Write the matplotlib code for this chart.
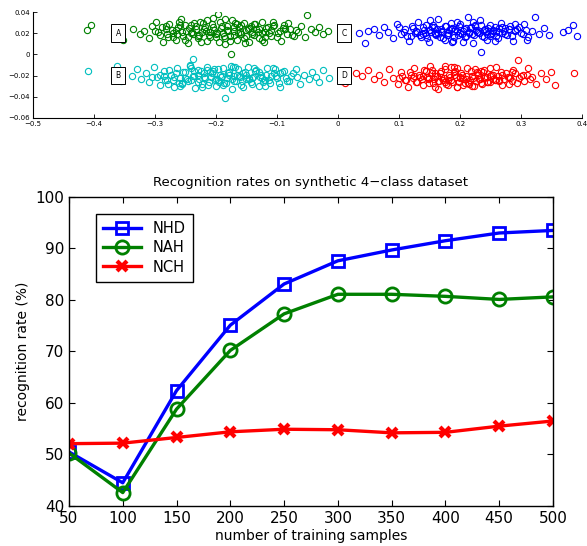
import matplotlib
matplotlib.use('Agg')
import matplotlib.pyplot as plt

# --- bottom panel: recognition rates ---
n_samples = [50, 100, 150, 200, 250, 300, 350, 400, 450, 500]
nhd = [50.5, 44.5, 62.4, 75.1, 83.1, 87.6, 89.7, 91.5, 93.0, 93.5]
nah = [50.3, 42.6, 58.8, 70.2, 77.3, 81.1, 81.1, 80.7, 80.1, 80.6]
nch = [52.1, 52.2, 53.3, 54.4, 54.9, 54.8, 54.2, 54.3, 55.5, 56.5]

# --- top panel: synthetic 4-class data (hand-read points) ---
a_x = [-0.412, -0.405, -0.362, -0.356, -0.352, -0.335, -0.325, -0.318, -0.310, -0.305,
       -0.298, -0.292, -0.287, -0.282, -0.276, -0.271, -0.266, -0.262, -0.257, -0.253,
       -0.249, -0.245, -0.241, -0.237, -0.233, -0.229, -0.226, -0.222, -0.218, -0.214,
       -0.211, -0.207, -0.203, -0.199, -0.196, -0.192, -0.188, -0.185, -0.181, -0.177,
       -0.173, -0.170, -0.166, -0.162, -0.158, -0.154, -0.150, -0.146, -0.142, -0.138,
       -0.134, -0.129, -0.125, -0.120, -0.115, -0.110, -0.104, -0.098, -0.093, -0.087,
       -0.082, -0.075, -0.068, -0.061, -0.054, -0.051, -0.044, -0.037, -0.030, -0.024,
       -0.016, -0.175, -0.280, -0.265, -0.250, -0.240, -0.230, -0.220, -0.210, -0.200,
       -0.190, -0.180, -0.170, -0.160, -0.150, -0.140, -0.130, -0.120, -0.110, -0.195,
       -0.215, -0.165, -0.145, -0.235, -0.255, -0.185, -0.300, -0.090, -0.270, -0.125,
       -0.295, -0.288, -0.279, -0.272, -0.263, -0.258, -0.251, -0.244, -0.239, -0.232,
       -0.227, -0.221, -0.216, -0.209, -0.204, -0.198, -0.193, -0.187, -0.182, -0.176,
       -0.171, -0.164, -0.159, -0.153, -0.148, -0.141, -0.136, -0.131, -0.124, -0.118,
       -0.112, -0.106, -0.100, -0.095, -0.089, -0.084, -0.078, -0.072, -0.066, -0.260,
       -0.245, -0.225, -0.205, -0.185, -0.168, -0.152, -0.137, -0.121, -0.106, -0.282]
a_y = [0.023, 0.028, 0.025, 0.023, 0.014, 0.024, 0.019, 0.022, 0.015, 0.027,
       0.031, 0.018, 0.012, 0.024, 0.029, 0.020, 0.014, 0.026, 0.033, 0.017,
       0.022, 0.011, 0.028, 0.019, 0.024, 0.015, 0.031, 0.021, 0.026, 0.013,
       0.018, 0.029, 0.023, 0.016, 0.038, 0.025, 0.020, 0.010, 0.027, 0.017,
       0.032, 0.022, 0.014, 0.026, 0.019, 0.030, 0.023, 0.012, 0.027, 0.018,
       0.024, 0.015, 0.031, 0.021, 0.026, 0.017, 0.028, 0.020, 0.013, 0.024,
       0.030, 0.018, 0.023, 0.027, 0.016, 0.037, 0.024, 0.021, 0.026, 0.019,
       0.022, 0.000, 0.019, 0.023, 0.028, 0.020, 0.017, 0.024, 0.021, 0.019,
       0.027, 0.022, 0.018, 0.021, 0.017, 0.021, 0.024, 0.016, 0.023, 0.012,
       0.032, 0.029, 0.025, 0.030, 0.021, 0.033, 0.022, 0.025, 0.016, 0.020,
       0.021, 0.026, 0.016, 0.023, 0.019, 0.028, 0.014, 0.025, 0.021, 0.027,
       0.018, 0.030, 0.022, 0.016, 0.026, 0.020, 0.031, 0.017, 0.023, 0.013,
       0.026, 0.020, 0.028, 0.015, 0.024, 0.019, 0.029, 0.021, 0.014, 0.025,
       0.020, 0.027, 0.016, 0.022, 0.028, 0.019, 0.024, 0.017, 0.021, 0.031,
       0.016, 0.012, 0.034, 0.015, 0.030, 0.011, 0.029, 0.012, 0.031, 0.027]

b_x = [-0.410, -0.362, -0.360, -0.356, -0.338, -0.330, -0.322, -0.315, -0.309, -0.302,
       -0.296, -0.291, -0.285, -0.280, -0.274, -0.269, -0.264, -0.259, -0.255, -0.250,
       -0.246, -0.242, -0.238, -0.234, -0.230, -0.227, -0.223, -0.219, -0.215, -0.212,
       -0.208, -0.204, -0.200, -0.197, -0.193, -0.189, -0.186, -0.182, -0.178, -0.174,
       -0.171, -0.167, -0.163, -0.159, -0.155, -0.151, -0.147, -0.143, -0.139, -0.135,
       -0.130, -0.126, -0.121, -0.116, -0.111, -0.105, -0.099, -0.094, -0.088, -0.083,
       -0.076, -0.069, -0.062, -0.055, -0.048, -0.043, -0.036, -0.031, -0.025, -0.015,
       -0.185, -0.238, -0.285, -0.265, -0.250, -0.240, -0.230, -0.220, -0.210, -0.200,
       -0.190, -0.180, -0.170, -0.160, -0.150, -0.140, -0.130, -0.120, -0.110, -0.195,
       -0.215, -0.165, -0.145, -0.235, -0.255, -0.175, -0.305, -0.095, -0.270, -0.125,
       -0.292, -0.283, -0.276, -0.268, -0.261, -0.253, -0.247, -0.241, -0.236, -0.229,
       -0.224, -0.218, -0.213, -0.207, -0.202, -0.196, -0.191, -0.184, -0.179, -0.173,
       -0.168, -0.162, -0.157, -0.152, -0.146, -0.141, -0.134, -0.128, -0.123, -0.117,
       -0.113, -0.107, -0.101, -0.096, -0.091, -0.085, -0.080, -0.073, -0.067, -0.258,
       -0.243, -0.222, -0.203, -0.188, -0.172, -0.156, -0.138, -0.119, -0.103, -0.278]
b_y = [-0.016, -0.011, -0.021, -0.025, -0.020, -0.014, -0.023, -0.018, -0.026, -0.012,
       -0.021, -0.029, -0.016, -0.024, -0.019, -0.031, -0.013, -0.022, -0.027, -0.017,
       -0.025, -0.010, -0.020, -0.032, -0.015, -0.023, -0.028, -0.018, -0.012, -0.026,
       -0.021, -0.016, -0.030, -0.024, -0.019, -0.013, -0.027, -0.022, -0.017, -0.033,
       -0.020, -0.025, -0.014, -0.029, -0.018, -0.023, -0.012, -0.026, -0.021, -0.016,
       -0.030, -0.019, -0.024, -0.013, -0.027, -0.018, -0.022, -0.031, -0.016, -0.025,
       -0.020, -0.014, -0.028, -0.019, -0.023, -0.017, -0.021, -0.026, -0.015, -0.022,
       -0.041, -0.004, -0.020, -0.018, -0.022, -0.024, -0.019, -0.021, -0.017, -0.023,
       -0.020, -0.018, -0.025, -0.021, -0.019, -0.022, -0.017, -0.024, -0.020, -0.026,
       -0.015, -0.019, -0.023, -0.016, -0.028, -0.011, -0.021, -0.018, -0.024, -0.022,
       -0.019, -0.024, -0.015, -0.021, -0.027, -0.017, -0.023, -0.013, -0.020, -0.026,
       -0.016, -0.022, -0.029, -0.018, -0.024, -0.014, -0.021, -0.027, -0.019, -0.023,
       -0.012, -0.020, -0.025, -0.017, -0.022, -0.028, -0.015, -0.021, -0.026, -0.019,
       -0.024, -0.013, -0.020, -0.027, -0.017, -0.022, -0.025, -0.018, -0.021, -0.030,
       -0.011, -0.031, -0.014, -0.029, -0.012, -0.031, -0.013, -0.030, -0.014, -0.028]

c_x = [0.035, 0.045, 0.050, 0.060, 0.068, 0.075, 0.082, 0.090, 0.097, 0.104,
       0.110, 0.116, 0.121, 0.126, 0.131, 0.136, 0.141, 0.145, 0.149, 0.153,
       0.157, 0.161, 0.165, 0.169, 0.173, 0.177, 0.181, 0.185, 0.189, 0.193,
       0.197, 0.201, 0.205, 0.209, 0.213, 0.217, 0.221, 0.225, 0.229, 0.233,
       0.237, 0.241, 0.245, 0.249, 0.253, 0.257, 0.262, 0.267, 0.272, 0.277,
       0.282, 0.288, 0.294, 0.300, 0.306, 0.312, 0.318, 0.323, 0.330, 0.338,
       0.346, 0.370, 0.378, 0.385, 0.392, 0.235, 0.130, 0.140, 0.150, 0.160,
       0.170, 0.180, 0.190, 0.200, 0.210, 0.220, 0.230, 0.240, 0.250, 0.260,
       0.270, 0.280, 0.155, 0.175, 0.195, 0.215, 0.245, 0.265, 0.120, 0.290,
       0.205, 0.185, 0.225, 0.165, 0.255, 0.100, 0.310, 0.145, 0.275, 0.215,
       0.108, 0.114, 0.123, 0.129, 0.134, 0.139, 0.143, 0.147, 0.151, 0.156,
       0.159, 0.163, 0.167, 0.171, 0.175, 0.179, 0.183, 0.187, 0.191, 0.195,
       0.199, 0.203, 0.207, 0.211, 0.215, 0.219, 0.223, 0.227, 0.231, 0.235,
       0.239, 0.243, 0.247, 0.251, 0.255, 0.260, 0.265, 0.270, 0.275, 0.280,
       0.285, 0.291, 0.297, 0.303, 0.309, 0.152, 0.188, 0.222, 0.258, 0.290]
c_y = [0.020, 0.011, 0.022, 0.024, 0.018, 0.026, 0.021, 0.015, 0.029, 0.019,
       0.024, 0.013, 0.027, 0.020, 0.031, 0.016, 0.023, 0.028, 0.012, 0.021,
       0.026, 0.018, 0.033, 0.022, 0.015, 0.027, 0.020, 0.030, 0.013, 0.024,
       0.018, 0.029, 0.022, 0.016, 0.035, 0.025, 0.011, 0.027, 0.021, 0.032,
       0.017, 0.024, 0.014, 0.028, 0.020, 0.026, 0.015, 0.030, 0.022, 0.018,
       0.027, 0.013, 0.024, 0.020, 0.029, 0.016, 0.022, 0.035, 0.019, 0.025,
       0.018, 0.021, 0.023, 0.028, 0.017, 0.002, 0.021, 0.019, 0.023, 0.020,
       0.024, 0.018, 0.022, 0.020, 0.025, 0.019, 0.021, 0.023, 0.017, 0.022,
       0.020, 0.024, 0.026, 0.014, 0.031, 0.021, 0.019, 0.025, 0.017, 0.023,
       0.012, 0.024, 0.028, 0.020, 0.022, 0.026, 0.014, 0.018, 0.025, 0.020,
       0.021, 0.017, 0.025, 0.022, 0.018, 0.026, 0.020, 0.015, 0.023, 0.028,
       0.019, 0.024, 0.016, 0.021, 0.027, 0.018, 0.023, 0.025, 0.016, 0.022,
       0.027, 0.019, 0.024, 0.017, 0.021, 0.026, 0.018, 0.023, 0.020, 0.028,
       0.016, 0.022, 0.025, 0.019, 0.023, 0.017, 0.021, 0.026, 0.019, 0.024,
       0.017, 0.022, 0.026, 0.019, 0.023, 0.032, 0.012, 0.031, 0.013, 0.029]

d_x = [0.005, 0.012, 0.030, 0.040, 0.050, 0.060, 0.068, 0.076, 0.084, 0.091,
       0.098, 0.104, 0.110, 0.115, 0.120, 0.125, 0.130, 0.135, 0.140, 0.144,
       0.148, 0.152, 0.156, 0.160, 0.164, 0.168, 0.172, 0.176, 0.180, 0.184,
       0.188, 0.192, 0.196, 0.200, 0.204, 0.208, 0.212, 0.216, 0.220, 0.224,
       0.228, 0.232, 0.236, 0.240, 0.245, 0.250, 0.255, 0.260, 0.265, 0.270,
       0.276, 0.282, 0.288, 0.294, 0.300, 0.306, 0.312, 0.318, 0.325, 0.333,
       0.342, 0.350, 0.356, 0.388, 0.295, 0.140, 0.150, 0.160, 0.170, 0.180,
       0.190, 0.200, 0.210, 0.220, 0.230, 0.240, 0.250, 0.260, 0.270, 0.280,
       0.155, 0.175, 0.195, 0.215, 0.235, 0.255, 0.125, 0.285, 0.165, 0.185,
       0.205, 0.225, 0.245, 0.100, 0.310, 0.145, 0.265, 0.195, 0.175, 0.235,
       0.106, 0.112, 0.118, 0.123, 0.128, 0.133, 0.138, 0.142, 0.146, 0.150,
       0.154, 0.158, 0.162, 0.166, 0.170, 0.174, 0.178, 0.182, 0.186, 0.190,
       0.194, 0.198, 0.202, 0.206, 0.210, 0.214, 0.218, 0.222, 0.226, 0.230,
       0.234, 0.238, 0.242, 0.247, 0.252, 0.257, 0.262, 0.267, 0.273, 0.279,
       0.285, 0.291, 0.297, 0.303, 0.315, 0.160, 0.190, 0.220, 0.250, 0.280]
d_y = [-0.025, -0.027, -0.018, -0.020, -0.015, -0.023, -0.019, -0.026, -0.014, -0.022,
       -0.028, -0.017, -0.024, -0.031, -0.019, -0.013, -0.026, -0.021, -0.029, -0.016,
       -0.023, -0.011, -0.027, -0.020, -0.033, -0.018, -0.024, -0.014, -0.029, -0.021,
       -0.026, -0.016, -0.031, -0.022, -0.019, -0.027, -0.013, -0.024, -0.020, -0.030,
       -0.017, -0.023, -0.028, -0.015, -0.021, -0.026, -0.019, -0.012, -0.024, -0.029,
       -0.018, -0.022, -0.015, -0.027, -0.020, -0.025, -0.013, -0.021, -0.028, -0.018,
       -0.023, -0.017, -0.029, -0.018, -0.005, -0.020, -0.022, -0.018, -0.021, -0.024,
       -0.019, -0.021, -0.023, -0.020, -0.018, -0.022, -0.020, -0.024, -0.019, -0.021,
       -0.015, -0.026, -0.013, -0.028, -0.016, -0.023, -0.020, -0.017, -0.025, -0.012,
       -0.029, -0.014, -0.026, -0.022, -0.019, -0.016, -0.025, -0.031, -0.011, -0.027,
       -0.020, -0.024, -0.017, -0.022, -0.026, -0.019, -0.023, -0.015, -0.021, -0.027,
       -0.018, -0.023, -0.020, -0.025, -0.016, -0.022, -0.028, -0.019, -0.024, -0.017,
       -0.021, -0.026, -0.018, -0.023, -0.020, -0.027, -0.016, -0.022, -0.025, -0.019,
       -0.023, -0.017, -0.021, -0.026, -0.019, -0.024, -0.020, -0.017, -0.023, -0.021,
       -0.025, -0.018, -0.022, -0.019, -0.023, -0.031, -0.012, -0.030, -0.013, -0.028]

class_labels = ['A', 'B', 'C', 'D']
label_pos = [(-0.36, 0.02), (-0.36, -0.02), (0.01, 0.02), (0.01, -0.02)]

plt.rcParams['font.family'] = 'DejaVu Sans'
fig = plt.figure(figsize=(5.87, 5.46), dpi=100)

# top scatter
ax1 = fig.add_axes([0.056, 0.784, 0.935, 0.194])
for xs, ys, col in [(a_x, a_y, (0, 0.5, 0)), (b_x, b_y, (0, 0.75, 0.75)),
                    (c_x, c_y, (0, 0, 1)), (d_x, d_y, (1, 0, 0))]:
    ax1.plot(xs, ys, 'o', mfc='none', mec=col, ms=4.5, mew=0.8)
for lab, (lx, ly) in zip(class_labels, label_pos):
    ax1.text(lx, ly, lab, fontsize=5.5, ha='center', va='center',
             bbox=dict(boxstyle='square,pad=0.55', fc='white', ec='black', lw=0.7))
ax1.set_xlim(-0.5, 0.4)
ax1.set_ylim(-0.06, 0.04)
ax1.set_xticks([-0.5, -0.4, -0.3, -0.2, -0.1, 0, 0.1, 0.2, 0.3, 0.4])
ax1.set_yticks([-0.06, -0.04, -0.02, 0, 0.02, 0.04])
ax1.set_xticklabels(['\u22120.5', '\u22120.4', '\u22120.3', '\u22120.2', '\u22120.1',
                     '0', '0.1', '0.2', '0.3', '0.4'])
ax1.set_yticklabels(['\u22120.06', '\u22120.04', '\u22120.02', '0', '0.02', '0.04'])
ax1.spines['top'].set_visible(False)
ax1.spines['right'].set_visible(False)
ax1.tick_params(direction='in', labelsize=5, length=3, width=0.6, pad=2)
for s in ax1.spines.values():
    s.set_linewidth(0.8)

# bottom line chart
ax2 = fig.add_axes([0.1175, 0.0733, 0.8245, 0.566])
ax2.plot(n_samples, nhd, '-s', color=(0, 0, 1), lw=2.4, ms=9, mfc='none', mew=2, label='NHD')
ax2.plot(n_samples, nah, '-o', color=(0, 0.5, 0), lw=2.4, ms=9.5, mfc='none', mew=2, label='NAH')
ax2.plot(n_samples, nch, '-x', color=(1, 0, 0), lw=2.4, ms=7, mew=3, label='NCH')
ax2.set_xlim(50, 500)
ax2.set_ylim(40, 100)
ax2.set_xticks(n_samples)
ax2.set_yticks([40, 50, 60, 70, 80, 90, 100])
ax2.tick_params(direction='in', top=True, right=True, labelsize=11, length=4, width=0.8)
ax2.set_xlabel('number of training samples', fontsize=10, labelpad=2)
ax2.set_ylabel('recognition rate (%)', fontsize=10, labelpad=4)
ax2.set_title('Recognition rates on synthetic 4\u2212class dataset', fontsize=9.5, pad=8)
leg = ax2.legend(loc='upper left', bbox_to_anchor=(0.04, 0.97), fontsize=10.5,
                 fancybox=False, framealpha=1, handlelength=2.6, borderpad=0.5,
                 labelspacing=0.3)
leg.get_frame().set_edgecolor('black')
leg.get_frame().set_linewidth(1)
for s in ax2.spines.values():
    s.set_linewidth(1)

fig.savefig('out.png', dpi=100)
